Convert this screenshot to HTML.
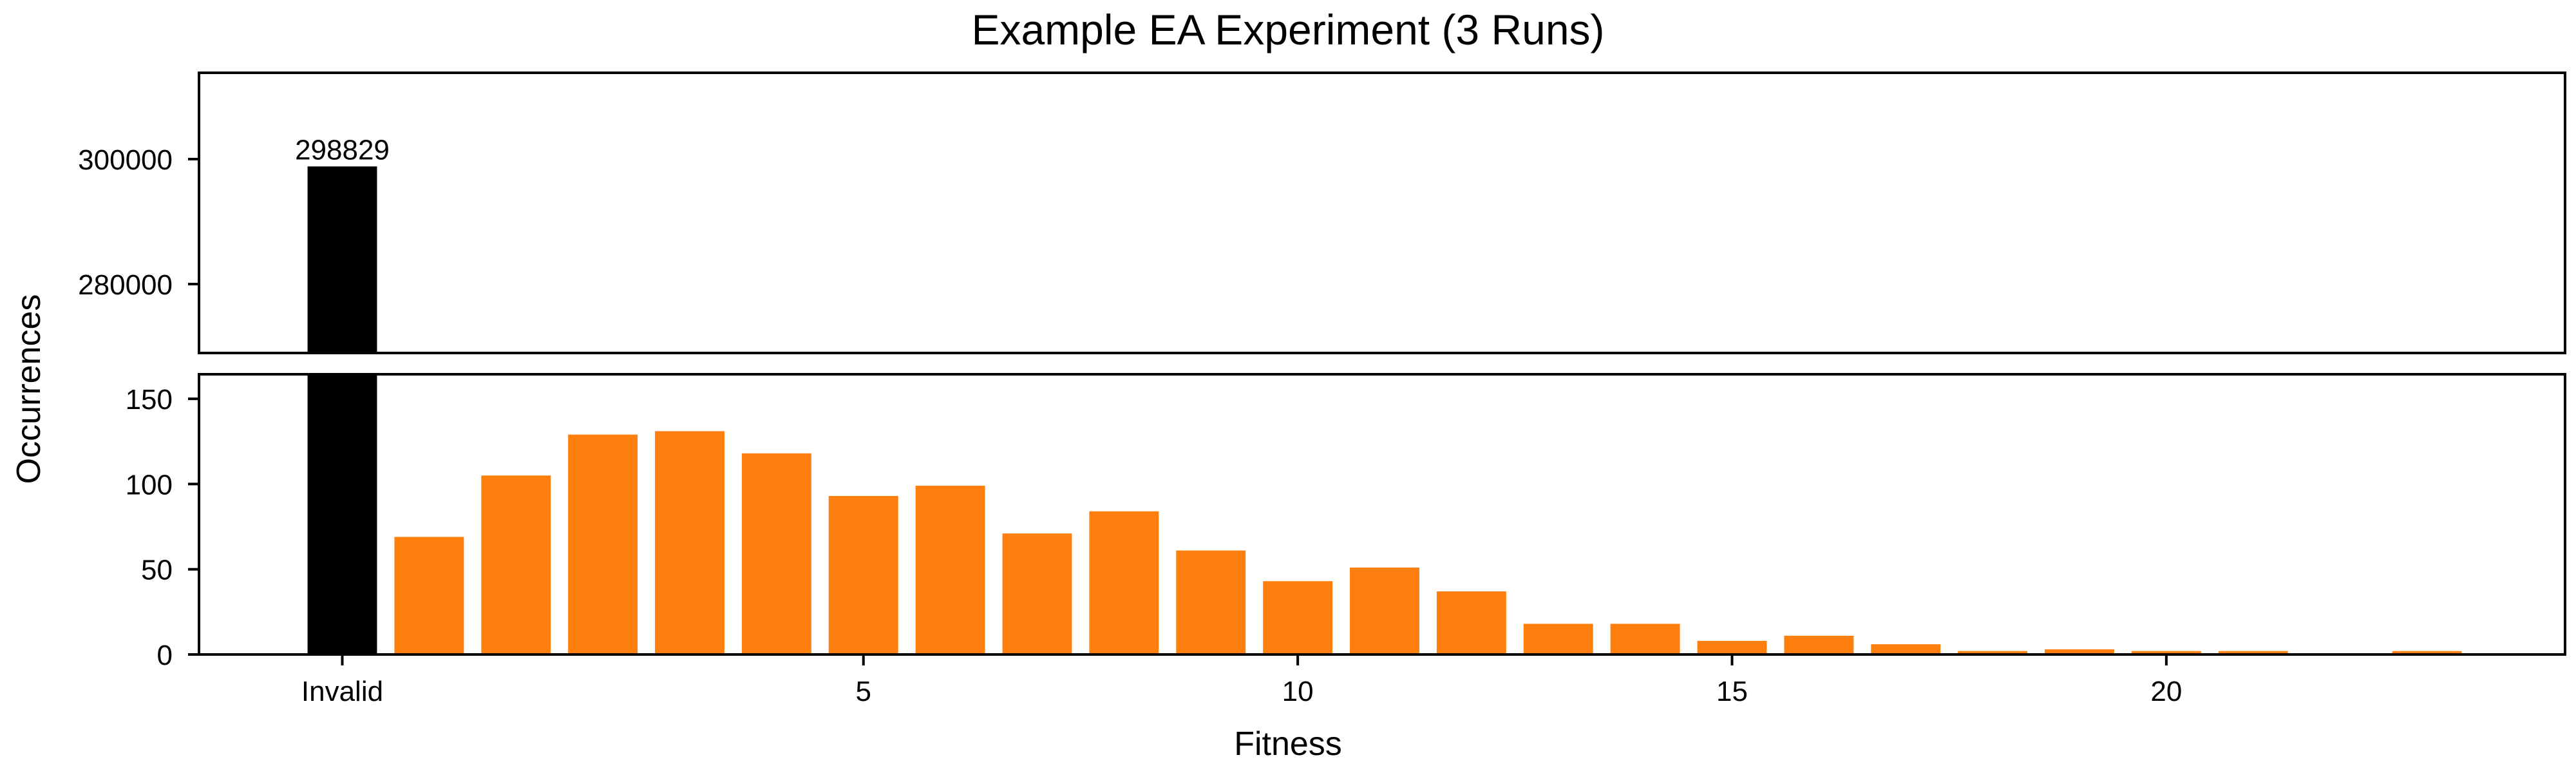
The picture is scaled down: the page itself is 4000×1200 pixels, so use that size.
<!DOCTYPE html>
<html><head><meta charset="utf-8"><style>
html,body{margin:0;padding:0;background:#fff;}
svg{display:block;font-family:"Liberation Sans","DejaVu Sans",sans-serif;}
</style></head><body>
<svg id="chart" width="4000" height="1200" viewBox="0 0 4000 1200" xmlns="http://www.w3.org/2000/svg">
<rect x="0" y="0" width="4000" height="1200" fill="#fff"/>
<text x="2000" y="69" font-size="66" text-anchor="middle">Example EA Experiment (3 Runs)</text>
<text transform="translate(62,604) rotate(-90)" font-size="52" text-anchor="middle">Occurrences</text>
<text x="2000" y="1172" font-size="52" text-anchor="middle">Fitness</text>
<g id="topPanel"></g>
<g id="botPanel"></g>
</svg>
<script>
const invalidCount = 298829;
const fitnessValues = [0,1,2,3,4,5,6,7,8,9,10,11,12,13,14,15,16,17,18,19,20,21,22,23];
const fitnessCounts = [69,105,129,131,118,93,99,71,84,61,43,51,37,18,18,8,11,6,2,3,2,2,0,2];
const xTicks = [5,10,15,20];
const topYTicks = [280000,300000];
const botYTicks = [0,50,100,150];

const NS='http://www.w3.org/2000/svg';
function mk(parent,tag,attrs){const e=document.createElementNS(NS,tag);for(const k in attrs)e.setAttribute(k,attrs[k]);parent.appendChild(e);return e;}
const L=309,R=3983;
const xMin=-2.62,xMax=24.62;
function xs(v){return L+4+(v-xMin)/(xMax-xMin)*(R-L);}
const tT=113,tB=548,tyMin=268969,tyMax=313814;
function ty(v){return tB-(v-tyMin)/(tyMax-tyMin)*(tB-tT);}
const bT=581,bB=1016,byMin=0,byMax=164.4;
function by(v){return bB-(v-byMin)/(byMax-byMin)*(bB-bT);}
const bw=0.8*(xs(1)-xs(0));
const topG=document.getElementById('topPanel'), botG=document.getElementById('botPanel');

let yb=ty(invalidCount);
let r=mk(topG,'rect',{x:xs(-1)-bw/2,y:yb,width:bw,height:tB-yb,fill:'#000'});


let t=mk(topG,'text',{x:xs(-1),y:yb-11,'font-size':44,'text-anchor':'middle'});
t.textContent=String(invalidCount);


topYTicks.forEach(v=>{
  const y=ty(v);
  const l=mk(topG,'line',{x1:L-17,x2:L,y1:y,y2:y,stroke:'#000','stroke-width':4});
  
  
  const tx=mk(topG,'text',{x:268,y:y+16,'font-size':44,'text-anchor':'end'});
  tx.textContent=String(v);
  
  
});
let f=mk(topG,'rect',{x:L,y:tT,width:R-L,height:tB-tT,fill:'none',stroke:'#000','stroke-width':4});



r=mk(botG,'rect',{x:xs(-1)-bw/2,y:bT,width:bw,height:bB-bT,fill:'#000'});


fitnessValues.forEach((fv,i)=>{
  const c=fitnessCounts[i]; if(!c) return;
  const y=Math.max(by(c),bT);
  const b=mk(botG,'rect',{x:xs(fv)-bw/2,y:y,width:bw,height:bB-y,fill:'#ff7f0e'});
  
  
});
botYTicks.forEach(v=>{
  const y=by(v);
  const l=mk(botG,'line',{x1:L-17,x2:L,y1:y,y2:y,stroke:'#000','stroke-width':4});
  
  
  const tx=mk(botG,'text',{x:268,y:y+16,'font-size':44,'text-anchor':'end'});
  tx.textContent=String(v);
  
  
});
const xtAll=[[-1,'Invalid']].concat(xTicks.map(v=>[v,String(v)]));
xtAll.forEach(([v,lab])=>{
  const x=xs(v);
  const l=mk(botG,'line',{x1:x,x2:x,y1:bB,y2:bB+17,stroke:'#000','stroke-width':4});
  
  
  const tx=mk(botG,'text',{x:x,y:1088,'font-size':44,'text-anchor':'middle'});
  tx.textContent=lab;
  
  
});
f=mk(botG,'rect',{x:L,y:bT,width:R-L,height:bB-bT,fill:'none',stroke:'#000','stroke-width':4});


</script>
</body></html>
